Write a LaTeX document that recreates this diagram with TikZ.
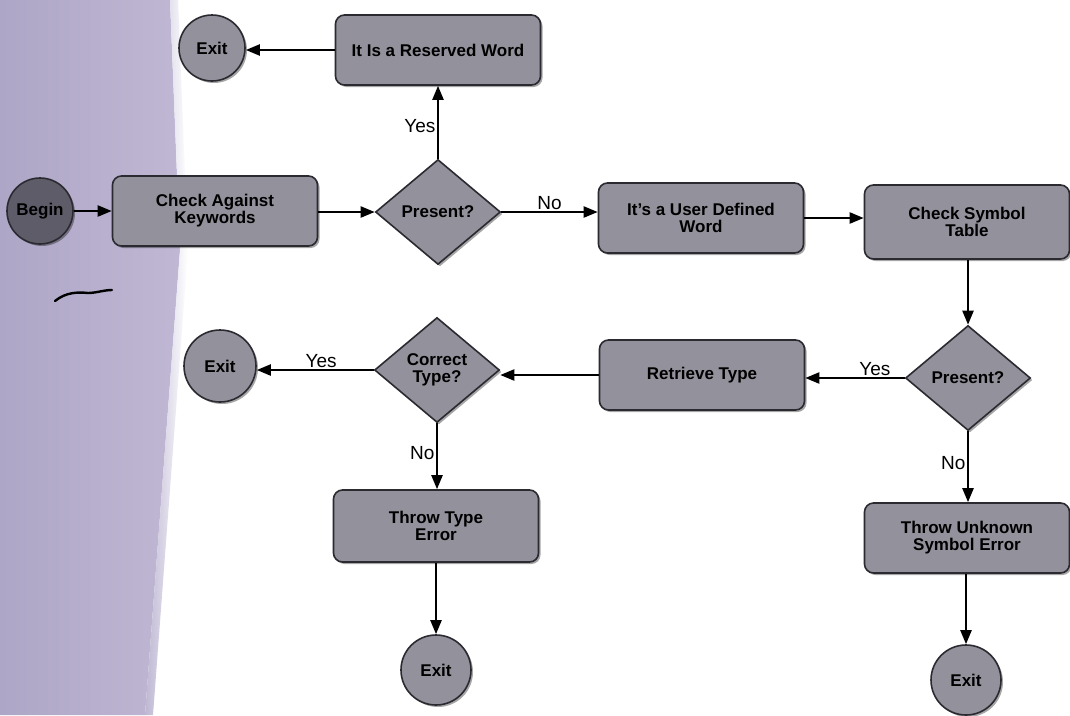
\documentclass[tikz,border=0pt]{standalone}
\usepackage{fontspec}
\setmainfont{Liberation Sans}
\usetikzlibrary{arrows.meta,shapes.geometric,shadows}
\definecolor{boxfill}{HTML}{93929C}
\definecolor{beginfill}{HTML}{5E5C68}
\definecolor{edge}{HTML}{2A2A30}
\definecolor{lavA}{HTML}{AEA6C6}
\definecolor{lavB}{HTML}{BFB7D3}
\begin{document}
\begin{tikzpicture}[x=1pt,y=-1pt,
  shape base/.style={draw=edge, line width=1.6pt, fill=boxfill, text=black,
    font=\bfseries\fontsize{17}{17}\selectfont, align=center,
    drop shadow={shadow xshift=2pt, shadow yshift=-2pt, fill=black, opacity=0.35}},
  stepbox/.style={shape base, rectangle, rounded corners=9pt, minimum width=205pt, minimum height=70pt, inner sep=2pt},
  decision/.style={shape base, diamond, minimum width=125pt, minimum height=105pt, inner sep=0pt},
  terminal/.style={shape base, circle, minimum size=68pt, inner sep=0pt},
  flow/.style={line width=2.2pt, draw=black, -{Triangle[length=14pt,width=11pt]}},
  lbl/.style={font=\fontsize{19}{20}\selectfont, text=black, inner sep=1.5pt}]
\useasboundingbox (0,0) rectangle (1070,715);
% background of the photograph
\fill[white] (0,0) rectangle (1070,715);
\shade[left color=lavA, right color=lavB] (0,0) -- (170,0) -- (180,250) -- (145,715) -- (0,715) -- cycle;
\shade[left color=lavB, right color=white] (170,0) -- (178,0) -- (188,250) -- (153,715) -- (145,715) -- (180,250) -- cycle;
% pen mark
\draw[line width=2.4pt, line cap=round] (55,301) .. controls (66,292) and (78,292) .. (88,293) .. controls (96,293) and (104,290) .. (112,290);

% nodes
\node[terminal, fill=beginfill, minimum size=66pt] (begin) at (40,211) {Begin};
\node[stepbox] (check) at (215,211) {Check Against\\Keywords};
\node[decision] (pres1) at (438,212) {Present?};
\node[stepbox] (reserved) at (438,50) {It Is a Reserved Word};
\node[terminal, minimum size=66pt] (exit1) at (212,48) {Exit};
\node[stepbox] (user) at (701,218) {It's a User Defined\\Word};
\node[stepbox, minimum height=74pt] (symtab) at (967,222) {Check Symbol\\Table};
\node[decision] (pres2) at (968,378) {Present?};
\node[stepbox] (retrieve) at (702,375) {Retrieve Type};
\node[decision] (correct) at (437,370) {Correct\\Type?};
\node[terminal, minimum size=72pt] (exit2) at (220,366) {Exit};
\node[stepbox, minimum height=72pt] (throwtype) at (436,526) {Throw Type\\Error};
\node[terminal, minimum size=70pt] (exit3) at (436,670) {Exit};
\node[stepbox] (unknown) at (967,538) {Throw Unknown\\Symbol Error};
\node[terminal, minimum size=70pt] (exit4) at (966,680) {Exit};

% connectors
\draw[flow] (begin.east) -- (begin.east -| check.west);
\draw[flow] (check.east |- pres1.west) -- (pres1.west);
\draw[flow] (pres1.north) -- node[lbl, left, pos=0.45] {Yes} (reserved.south);
\draw[flow] (reserved.west) -- (reserved.west -| exit1.east);
\draw[flow] (pres1.east) -- node[lbl, above, pos=0.5] {No} (pres1.east -| user.west);
\draw[flow] (user.east) -- (user.east -| symtab.west);
\draw[flow] (symtab.south -| pres2.north) -- (pres2.north);
\draw[flow] (pres2.west) -- node[lbl, above, pos=0.3] {Yes} (pres2.west -| retrieve.east);
\draw[flow] (retrieve.west) -- (retrieve.west -| correct.east);
\draw[flow] (correct.west) -- node[lbl, above, pos=0.45] {Yes} (correct.west -| exit2.east);
\draw[flow] (correct.south) -- node[lbl, left, pos=0.45] {No} (correct.south |- throwtype.north);
\draw[flow] (throwtype.south -| exit3.north) -- (exit3.north);
\draw[flow] (pres2.south) -- node[lbl, left, pos=0.45] {No} (pres2.south |- unknown.north);
\draw[flow] (unknown.south -| exit4.north) -- (exit4.north);
\end{tikzpicture}
\end{document}
